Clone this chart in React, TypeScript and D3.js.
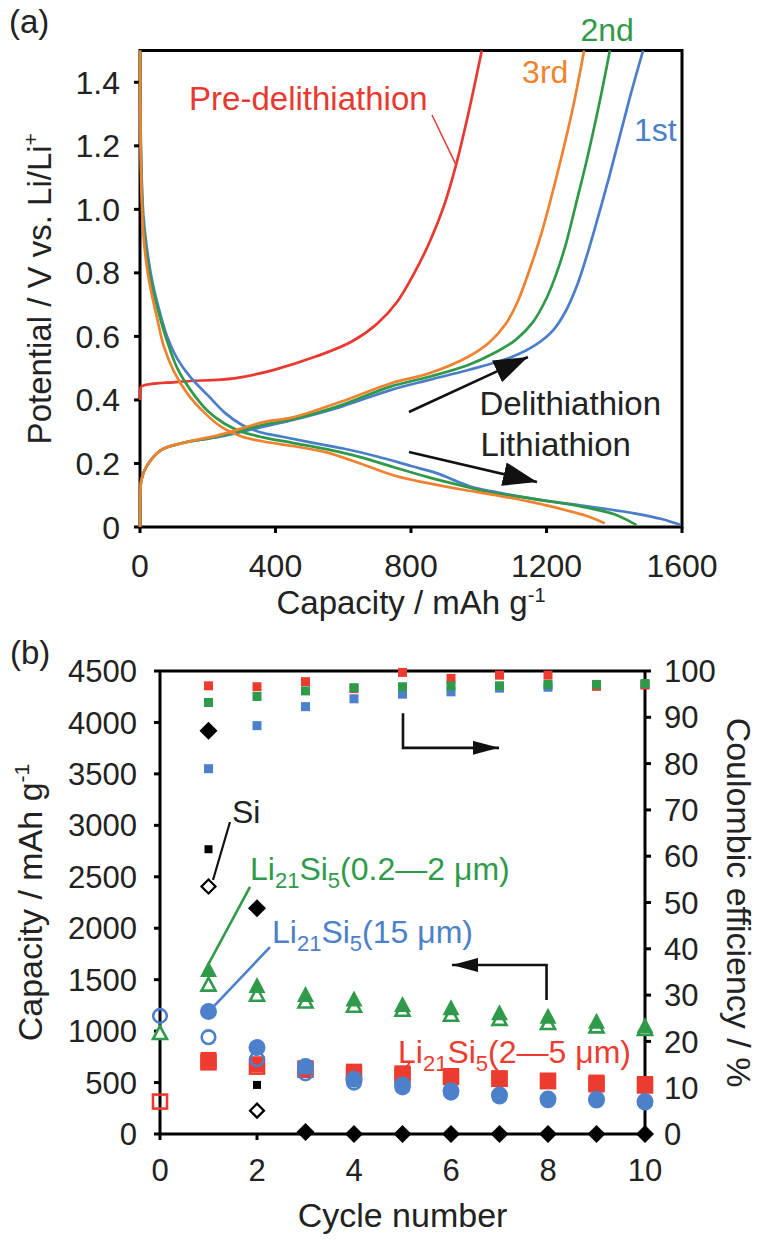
import React from 'react';
import * as d3 from 'd3';

const FONT = '"Liberation Sans", Arial, Helvetica, sans-serif';

// ---------- Panel (a) data: [capacity mAh/g, potential V] ----------
const capTicksA = [0, 400, 800, 1200, 1600];
const potTicksA = [0, 0.2, 0.4, 0.6, 0.8, 1.0, 1.2, 1.4];

const preDelith: [number, number][] = [
  [0, 0.40], [1, 0.43], [4, 0.442], [112, 0.457], [278, 0.468], [393, 0.494], [523, 0.538],
  [624, 0.583], [700, 0.64], [760, 0.71], [810, 0.8], [854, 0.895], [897, 1.01],
  [933, 1.14], [969, 1.3], [1009, 1.5],
];
const lith1: [number, number][] = [
  [0, 1.5], [2, 1.25], [5, 1.1], [10, 0.98], [20, 0.88], [35, 0.78], [55, 0.69], [80, 0.6],
  [110, 0.53], [150, 0.47], [200, 0.415], [250, 0.36], [300, 0.322], [350, 0.3],
  [420, 0.284], [500, 0.267], [600, 0.247], [700, 0.222], [800, 0.192], [880, 0.168],
  [930, 0.146], [980, 0.126], [1040, 0.112], [1171, 0.087], [1315, 0.066], [1459, 0.043],
  [1540, 0.025], [1596, 0.006],
];
const lith2: [number, number][] = [
  [0, 1.5], [2, 1.22], [5, 1.07], [10, 0.95], [20, 0.85], [35, 0.76], [55, 0.675], [80, 0.585],
  [110, 0.5], [150, 0.43], [200, 0.365], [250, 0.325], [300, 0.3], [360, 0.283], [450, 0.265],
  [550, 0.245], [650, 0.22], [750, 0.188], [850, 0.157], [950, 0.13], [1030, 0.11],
  [1171, 0.087], [1315, 0.062], [1400, 0.04], [1466, 0.006],
];
const lith3: [number, number][] = [
  [0, 1.5], [2, 1.2], [5, 1.03], [10, 0.92], [20, 0.82], [35, 0.73], [50, 0.66], [70, 0.57],
  [100, 0.49], [140, 0.42], [190, 0.36], [240, 0.315], [300, 0.285], [360, 0.27],
  [450, 0.255], [550, 0.235], [650, 0.2], [750, 0.162], [850, 0.138], [950, 0.118],
  [1050, 0.1], [1171, 0.075], [1260, 0.052], [1315, 0.036], [1372, 0.012],
];
const delith1: [number, number][] = [
  [0, 0], [1, 0.1], [4, 0.148], [19, 0.19], [62, 0.242], [120, 0.263], [235, 0.284],
  [364, 0.316], [451, 0.337], [595, 0.379], [739, 0.431], [854, 0.463], [969, 0.494],
  [1099, 0.536], [1170, 0.575], [1220, 0.62], [1257, 0.68], [1290, 0.76], [1315, 0.84],
  [1340, 0.93], [1387, 1.11], [1444, 1.344], [1485, 1.5],
];
const delith2: [number, number][] = [
  [0, 0], [1, 0.1], [4, 0.148], [19, 0.19], [62, 0.242], [120, 0.263], [235, 0.286],
  [364, 0.322], [451, 0.339], [595, 0.384], [739, 0.442], [854, 0.473], [969, 0.51],
  [1050, 0.55], [1110, 0.59], [1160, 0.645], [1200, 0.72], [1230, 0.8], [1257, 0.89],
  [1290, 1.03], [1320, 1.16], [1358, 1.344], [1387, 1.5],
];
const delith3: [number, number][] = [
  [0, 0], [1, 0.1], [4, 0.148], [19, 0.19], [62, 0.242], [120, 0.263], [235, 0.29],
  [364, 0.33], [451, 0.345], [595, 0.395], [739, 0.452], [854, 0.484], [969, 0.536],
  [1030, 0.58], [1080, 0.64], [1115, 0.71], [1150, 0.81], [1185, 0.924], [1243, 1.16],
  [1280, 1.33], [1311, 1.5],
];

// ---------- Panel (b) data ----------
const cycles = [0, 1, 2, 3, 4, 5, 6, 7, 8, 9, 10];
const cycleTicks = [0, 2, 4, 6, 8, 10];
const capTicksB = [0, 500, 1000, 1500, 2000, 2500, 3000, 3500, 4000, 4500];
const ceTicks = [0, 10, 20, 30, 40, 50, 60, 70, 80, 90, 100];

type V = number | null;
// Si
const siLith: V[] = [null, 3920, 2195, 20, 0, 0, 0, 0, 0, 0, 0];
const siDelith: V[] = [null, 2405, 227, null, null, null, null, null, null, null, null];
const siCE: V[] = [null, 61.5, 10.6, null, null, null, null, null, null, null, null];
// Li21Si5 (0.2-2 um) green
const gLith: V[] = [null, 1595, 1440, 1352, 1310, 1255, 1223, 1175, 1142, 1093, 1050];
const gDelith: V[] = [980, 1450, 1352, 1287, 1245, 1206, 1158, 1117, 1077, 1045, 1020];
const gCE: V[] = [null, 93.2, 94.5, 95.7, 96.4, 96.6, 96.8, 96.8, 97.1, 97.1, 97.3];
// Li21Si5 (15 um) blue
const bLith: V[] = [null, 1190, 840, 655, 532, 477, 421, 379, 340, 337, 315];
const bDelith: V[] = [1148, 941, 727, 590, 500, 453, 402, 365, 328, 326, 306];
const bCE: V[] = [null, 78.9, 88.2, 92.3, 94.0, 95.0, 95.5, 96.3, 96.5, 96.8, 97.0];
// Li21Si5 (2-5 um) red
const rLith: V[] = [null, 720, 678, 640, 606, 590, 564, 542, 519, 500, 486];
const rDelith: V[] = [315, 697, 655, 625, 583, 575, 555, 537, 514, 484, 472];
const rCE: V[] = [null, 96.8, 96.6, 97.7, 96.2, 99.7, 98.4, 99.1, 99.1, 96.7, 97.0];

const C = {
  red: '#e8382f',
  orange: '#f0822f',
  green: '#2e9a48',
  blue: '#4b7ec8',
  redB: '#ee3b30',
  greenB: '#2f9b4a',
  blueB: '#4c80ca',
};

// scales
const xA = d3.scaleLinear().domain([0, 1600]).range([140, 682]);
const yA = d3.scaleLinear().domain([0, 1.5]).range([527, 50.5]);
const xB = d3.scaleLinear().domain([0, 10]).range([160, 645]);
const yB = d3.scaleLinear().domain([0, 4500]).range([1134, 671]);
const yCE = d3.scaleLinear().domain([0, 100]).range([1134, 671]);

const lineA = d3
  .line<[number, number]>()
  .x((d) => xA(d[0]))
  .y((d) => yA(d[1]))
  .curve(d3.curveCatmullRom.alpha(0.5));

const pts = (vals: V[]) =>
  cycles.map((c, i) => ({ c, v: vals[i] })).filter((d) => d.v !== null) as { c: number; v: number }[];

const fmtA = (d: number) => (d === 0 ? '0' : d.toFixed(1));

export default function App() {
  const tri = (cx: number, cy: number, w: number, h: number) =>
    `M${cx},${cy - h * 0.55}L${cx + w / 2},${cy + h * 0.45}L${cx - w / 2},${cy + h * 0.45}Z`;
  const dia = (cx: number, cy: number, r: number) =>
    `M${cx},${cy - r}L${cx + r},${cy}L${cx},${cy + r}L${cx - r},${cy}Z`;
  const curveW = 2.7;

  return (
    <svg
      width={764}
      height={1243}
      style={{ position: 'absolute', left: 0, top: 0, background: '#fff' }}
      fontFamily={FONT}
    >
      <defs>
        <marker id="headA" markerUnits="userSpaceOnUse" markerWidth={34} markerHeight={24} refX={34} refY={12} orient="auto">
          <path d="M0,0L34,12L0,24Z" fill="#111" />
        </marker>
        <marker id="headB" markerUnits="userSpaceOnUse" markerWidth={26} markerHeight={14} refX={26} refY={7} orient="auto">
          <path d="M0,0L26,7L0,14Z" fill="#111" />
        </marker>
      </defs>
      <rect x={0} y={0} width={764} height={1243} fill="#fff" />

      {/* ================= Panel (a) ================= */}
      <text x={9} y={33} fontSize={33} fill="#222">(a)</text>
      <rect x={140} y={50.5} width={542} height={476.5} fill="none" stroke="#000" strokeWidth={3} />
      {potTicksA.map((t) => (
        <g key={'pa' + t}>
          <line x1={134} x2={140} y1={yA(t)} y2={yA(t)} stroke="#000" strokeWidth={3} />
          <text x={120} y={yA(t)} dy="0.36em" textAnchor="end" fontSize={32} fill="#222">{fmtA(t)}</text>
        </g>
      ))}
      {capTicksA.map((t) => (
        <g key={'ca' + t}>
          <line x1={xA(t)} x2={xA(t)} y1={527} y2={533} stroke="#000" strokeWidth={3} />
          <text x={xA(t)} y={577} textAnchor="middle" fontSize={32} fill="#222">{t}</text>
        </g>
      ))}
      <text x={(140 + 682) / 2} y={614} textAnchor="middle" fontSize={33} fill="#222">
        Capacity / mAh g<tspan dy={-12} fontSize={20}>-1</tspan>
      </text>
      <text transform={`translate(51,${(50.5 + 527) / 2}) rotate(-90)`} textAnchor="middle" fontSize={33} fill="#222">
        Potential / V vs. Li/Li<tspan dy={-13} fontSize={21}>+</tspan>
      </text>

      {/* curves */}
      <path d={lineA(preDelith) || ''} fill="none" stroke={C.red} strokeWidth={curveW} />
      <path d={lineA(lith1) || ''} fill="none" stroke={C.blue} strokeWidth={curveW} />
      <path d={lineA(delith1) || ''} fill="none" stroke={C.blue} strokeWidth={curveW} />
      <path d={lineA(lith2) || ''} fill="none" stroke={C.green} strokeWidth={curveW} />
      <path d={lineA(delith2) || ''} fill="none" stroke={C.green} strokeWidth={curveW} />
      <path d={lineA(lith3) || ''} fill="none" stroke={C.orange} strokeWidth={curveW} />
      <path d={lineA(delith3) || ''} fill="none" stroke={C.orange} strokeWidth={curveW} />

      {/* annotations (a) */}
      <text x={xA(145)} y={yA(1.313)} fontSize={33} fill={C.red}>Pre-delithiathion</text>
      <line x1={xA(862)} y1={yA(1.297)} x2={xA(933)} y2={yA(1.14)} stroke={C.red} strokeWidth={1.5} />
      <text x={xA(1128)} y={yA(1.397)} fontSize={32} fill={C.orange}>3rd</text>
      <text x={xA(1300)} y={yA(1.531)} fontSize={32} fill={C.green}>2nd</text>
      <text x={xA(1458)} y={yA(1.216)} fontSize={32} fill={C.blue}>1st</text>
      <line x1={xA(794)} y1={yA(0.362)} x2={xA(1145)} y2={yA(0.535)} stroke="#111" strokeWidth={2.6} markerEnd="url(#headA)" />
      <line x1={xA(794)} y1={yA(0.236)} x2={xA(1172)} y2={yA(0.142)} stroke="#111" strokeWidth={2.6} markerEnd="url(#headA)" />
      <text x={xA(1002)} y={yA(0.3526)} fontSize={33} fill="#222">Delithiathion</text>
      <text x={xA(1005)} y={yA(0.2245)} fontSize={33} fill="#222">Lithiathion</text>

      {/* ================= Panel (b) ================= */}
      <text x={10} y={664} fontSize={33} fill="#222">(b)</text>
      <line x1={160} x2={645} y1={671} y2={671} stroke="#000" strokeWidth={3} />
      <line x1={160} x2={160} y1={671} y2={1134} stroke="#000" strokeWidth={3} />
      <line x1={645} x2={645} y1={671} y2={1134} stroke="#000" strokeWidth={3} />
      <line x1={160} x2={645} y1={1134} y2={1134} stroke="#000" strokeWidth={3} />
      {capTicksB.map((t) => (
        <g key={'cb' + t}>
          <line x1={154} x2={160} y1={yB(t)} y2={yB(t)} stroke="#000" strokeWidth={3} />
          <text x={137} y={yB(t)} dy="0.36em" textAnchor="end" fontSize={31} fill="#222">{t}</text>
        </g>
      ))}
      {ceTicks.map((t) => (
        <g key={'ce' + t}>
          <line x1={645} x2={651} y1={yCE(t)} y2={yCE(t)} stroke="#000" strokeWidth={3} />
          <text x={664} y={yCE(t)} dy="0.36em" textAnchor="start" fontSize={31} fill="#222">{t}</text>
        </g>
      ))}
      {cycleTicks.map((t) => (
        <g key={'cy' + t}>
          <line x1={xB(t)} x2={xB(t)} y1={1134} y2={1140} stroke="#000" strokeWidth={3} />
          <text x={xB(t)} y={1181} textAnchor="middle" fontSize={31} fill="#222">{t}</text>
        </g>
      ))}
      <text x={(160 + 645) / 2} y={1227} textAnchor="middle" fontSize={34} fill="#222">Cycle number</text>
      <text transform={`translate(42,${(671 + 1134) / 2}) rotate(-90)`} textAnchor="middle" fontSize={34} fill="#222">
        Capacity / mAh g<tspan dy={-13} fontSize={21}>-1</tspan>
      </text>
      <text transform={`translate(727,${(671 + 1134) / 2}) rotate(90)`} textAnchor="middle" fontSize={34} fill="#222">
        Coulombic efficiency / %
      </text>

      {/* CE small squares */}
      {pts(bCE).map((d) => (
        <rect key={'bce' + d.c} x={xB(d.c) - 4.5} y={yCE(d.v) - 4.5} width={9} height={9} fill={C.blueB} />
      ))}
      {pts(rCE).map((d) => (
        <rect key={'rce' + d.c} x={xB(d.c) - 4.5} y={yCE(d.v) - 4.5} width={9} height={9} fill={C.redB} />
      ))}
      {pts(gCE).map((d) => (
        <rect key={'gce' + d.c} x={xB(d.c) - 4.5} y={yCE(d.v) - 4.5} width={9} height={9} fill={C.greenB} />
      ))}
      {pts(siCE).map((d) => (
        <rect key={'sce' + d.c} x={xB(d.c) - 4} y={yCE(d.v) - 4} width={8} height={8} fill="#000" />
      ))}

      {/* red squares */}
      {pts(rDelith).map((d) => (
        <rect key={'rd' + d.c} x={xB(d.c) - 7} y={yB(d.v) - 7} width={14} height={14} fill="none" stroke={C.redB} strokeWidth={2.6} />
      ))}
      {pts(rLith).map((d) => (
        <rect key={'rl' + d.c} x={xB(d.c) - 8} y={yB(d.v) - 8} width={16} height={16} fill={C.redB} />
      ))}
      {/* blue circles */}
      {pts(bDelith).map((d) => (
        <circle key={'bd' + d.c} cx={xB(d.c)} cy={yB(d.v)} r={6.8} fill="none" stroke={C.blueB} strokeWidth={2.6} />
      ))}
      {pts(bLith).map((d) => (
        <circle key={'bl' + d.c} cx={xB(d.c)} cy={yB(d.v)} r={8.5} fill={C.blueB} />
      ))}
      {/* green triangles */}
      {pts(gDelith).map((d) => (
        <path key={'gd' + d.c} d={tri(xB(d.c), yB(d.v), 14, 13)} fill="#fff" stroke={C.greenB} strokeWidth={2.6} />
      ))}
      {pts(gLith).map((d) => (
        <path key={'gl' + d.c} d={tri(xB(d.c), yB(d.v), 17, 16)} fill={C.greenB} />
      ))}
      {/* Si diamonds */}
      {pts(siDelith).map((d) => (
        <path key={'sd' + d.c} d={dia(xB(d.c), yB(d.v), 7)} fill="#fff" stroke="#000" strokeWidth={2.2} />
      ))}
      {pts(siLith).map((d) => (
        <path key={'sl' + d.c} d={dia(xB(d.c), yB(d.v), 9)} fill="#000" />
      ))}

      {/* annotations (b) */}
      <text x={xB(1.485)} y={yB(3023)} fontSize={32} fill="#222">Si</text>
      <line x1={xB(1.443)} y1={yB(3032)} x2={xB(1.093)} y2={yB(2469)} stroke="#111" strokeWidth={2.2} />

      <text x={xB(1.856)} y={yB(2469)} fontSize={32} fill={C.greenB}>
        Li<tspan dy={8} fontSize={22}>21</tspan><tspan dy={-8}>Si</tspan><tspan dy={8} fontSize={22}>5</tspan><tspan dy={-8}>(0.2—2 μm)</tspan>
      </text>
      <line x1={xB(1.856)} y1={yB(2401)} x2={xB(0.99)} y2={yB(1643)} stroke={C.greenB} strokeWidth={2.6} />

      <text x={xB(2.309)} y={yB(1856)} fontSize={32} fill={C.blueB}>
        Li<tspan dy={8} fontSize={22}>21</tspan><tspan dy={-8}>Si</tspan><tspan dy={8} fontSize={22}>5</tspan><tspan dy={-8}>(15 μm)</tspan>
      </text>
      <line x1={xB(2.268)} y1={yB(1817)} x2={xB(1.0)} y2={yB(1186)} stroke={C.blueB} strokeWidth={2.6} />

      <text x={xB(4.907)} y={yB(690)} fontSize={32} fill={C.redB}>
        Li<tspan dy={8} fontSize={22}>21</tspan><tspan dy={-8}>Si</tspan><tspan dy={8} fontSize={22}>5</tspan><tspan dy={-8}>(2—5 μm)</tspan>
      </text>
      <line x1={xB(5.155)} y1={yB(700)} x2={xB(5.03)} y2={yB(612)} stroke={C.redB} strokeWidth={2} />

      {/* arrows (b) */}
      <path
        d={`M${xB(5.01)},${yCE(90.9)}V${yCE(83.4)}H${xB(6.99)}`}
        fill="none"
        stroke="#111"
        strokeWidth={2.6}
        markerEnd="url(#headB)"
      />
      <path
        d={`M${xB(7.97)},${yB(1302)}V${yB(1643)}H${xB(6.02)}`}
        fill="none"
        stroke="#111"
        strokeWidth={2.6}
        markerEnd="url(#headB)"
      />
    </svg>
  );
}
